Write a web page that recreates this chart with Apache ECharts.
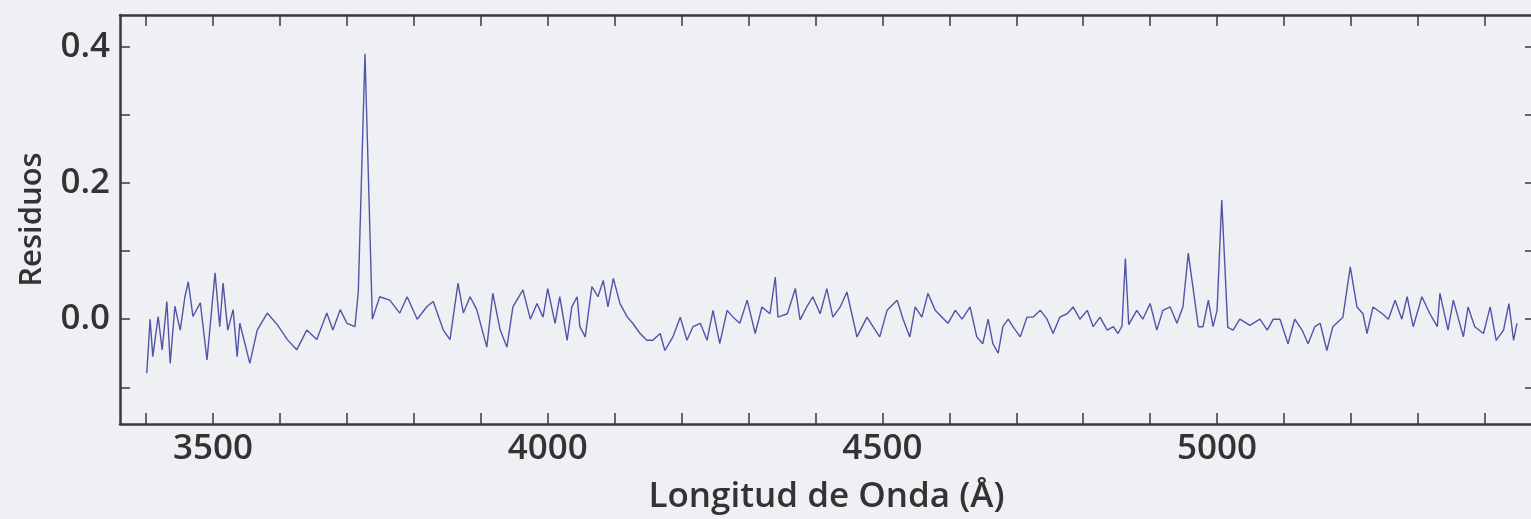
<!DOCTYPE html>
<html>
<head>
<meta charset="utf-8">
<script src="https://cdn.jsdelivr.net/npm/echarts@6/dist/echarts.min.js"></script>
<style>
html,body{margin:0;padding:0;background:#eef0f3;}
#chart{width:1531px;height:519px;}
</style>
</head>
<body>
<div id="chart"></div>
<script>
// Wavelength (Å) samples
const wavelengths = [
3401,3406,3410,3418,3424,3431,3436,3443,3451,3458,3463,3470,3481,3491,3503,3510,3515,3522,3530,3536,
3540,3555,3566,3581,3596,3611,3625,3640,3655,3670,3679,3690,3700,3712,3717,3727,3738,3749,3764,3779,
3790,3805,3820,3829,3844,3854,3866,3874,3884,3894,3909,3918,3929,3939,3948,3963,3974,3984,3993,4000,
4011,4018,4029,4036,4044,4048,4056,4066,4075,4083,4090,4098,4108,4119,4127,4138,4148,4157,4168,4175,
4187,4198,4208,4217,4228,4238,4247,4257,4268,4277,4287,4298,4310,4320,4332,4340,4344,4358,4370,4377,
4387,4396,4407,4417,4426,4437,4447,4462,4477,4486,4496,4507,4522,4531,4541,4549,4559,4568,4579,4589,
4598,4609,4619,4631,4641,4650,4658,4665,4673,4680,4688,4695,4706,4716,4725,4736,4746,4755,4765,4776,
4785,4795,4806,4815,4825,4836,4845,4852,4858,4863,4868,4880,4889,4900,4910,4919,4930,4940,4949,4957,
4972,4979,4987,4994,5000,5007,5016,5024,5034,5049,5064,5075,5084,5094,5106,5116,5127,5136,5146,5154,
5164,5173,5188,5199,5209,5218,5224,5233,5247,5256,5266,5276,5284,5293,5306,5318,5329,5333,5345,5353,
5368,5375,5385,5398,5408,5417,5428,5436,5443,5448
];
// Residual values at those wavelengths
const residuals = [
-0.079,0.000,-0.055,0.004,-0.045,0.026,-0.065,0.019,-0.016,0.033,0.055,0.004,0.024,-0.060,0.068,-0.011,0.053,-0.016,0.014,-0.055,
-0.006,-0.065,-0.016,0.009,-0.008,-0.030,-0.045,-0.016,-0.030,0.009,-0.016,0.014,-0.006,-0.011,0.040,0.390,0.000,0.033,0.028,0.009,
0.033,0.000,0.019,0.026,-0.016,-0.030,0.053,0.009,0.033,0.014,-0.041,0.038,-0.016,-0.041,0.018,0.043,0.000,0.023,0.003,0.045,
-0.006,0.033,-0.031,0.018,0.033,-0.011,-0.026,0.048,0.033,0.057,0.018,0.060,0.023,0.003,-0.006,-0.021,-0.031,-0.031,-0.021,-0.046,
-0.026,0.003,-0.031,-0.011,-0.006,-0.031,0.013,-0.036,0.013,0.003,-0.006,0.028,-0.021,0.018,0.008,0.062,0.003,0.008,0.045,-0.001,
0.018,0.033,0.008,0.045,0.003,0.018,0.040,-0.026,0.003,-0.011,-0.026,0.013,0.028,0.000,-0.026,0.018,0.003,0.038,0.013,0.003,
-0.006,0.013,0.000,0.018,-0.026,-0.036,0.000,-0.036,-0.050,-0.011,0.000,-0.011,-0.026,0.003,0.003,0.013,0.000,-0.021,0.003,0.008,
0.018,0.000,0.013,-0.011,0.003,-0.016,-0.011,-0.021,-0.010,0.089,-0.008,0.013,0.000,0.023,-0.016,0.013,0.018,-0.006,0.018,0.097,
-0.011,-0.011,0.028,-0.011,0.013,0.175,-0.012,-0.016,0.000,-0.009,0.000,-0.016,0.000,0.000,-0.036,0.000,-0.016,-0.036,-0.011,-0.006,
-0.046,-0.011,0.003,0.077,0.018,0.008,-0.021,0.018,0.008,0.000,0.028,0.000,0.033,-0.011,0.033,0.008,-0.011,0.038,-0.016,0.028,
-0.026,0.018,-0.011,-0.021,0.018,-0.031,-0.016,0.023,-0.031,-0.006
];
// Axis ticks and labels
const xTicks = [3400,3500,3600,3700,3800,3900,4000,4100,4200,4300,4400,4500,4600,4700,4800,4900,5000,5100,5200,5300,5400];
const xLabels = [3500,4000,4500,5000];
const yTicks = [-0.1,0.0,0.1,0.2,0.3,0.4];
const yLabels = [0.0,0.2,0.4];
const xTitle = 'Longitud de Onda (Å)';
const yTitle = 'Residuos';

const data = wavelengths.map((w, i) => [w, residuals[i]]);

const frameColor = '#3a3a3a';
const textColor = '#333333';
const font = 'Open Sans';

const xMin = 3361, xMax = 5472, yMin = -0.154, yMax = 0.447;

function frameAxis(extra) {
  return Object.assign({
    type: 'value',
    axisLine: { show: true, onZero: false, lineStyle: { color: frameColor, width: 2.5 } },
    splitLine: { show: false },
  }, extra);
}

const chart = echarts.init(document.getElementById('chart'), null, { renderer: 'canvas' });
chart.setOption({
  backgroundColor: '#eef0f3',
  animation: false,
  grid: { left: 120, right: -2, top: 15, bottom: 95, containLabel: false, outerBoundsMode: 'none' },
  xAxis: [
    frameAxis({
      position: 'bottom', min: xMin, max: xMax,
      name: xTitle, nameLocation: 'middle', nameGap: 56,
      nameTextStyle: { fontFamily: font, fontSize: 35, fontWeight: 600, color: textColor },
      axisTick: { show: true, inside: true, length: 11, customValues: xTicks, lineStyle: { color: frameColor, width: 1.5 } },
      axisLabel: { show: true, customValues: xLabels, margin: 8, fontFamily: font, fontSize: 35, fontWeight: 600, color: textColor,
        formatter: v => String(Math.round(v)) }
    }),
    frameAxis({
      position: 'top', min: xMin, max: xMax,
      axisTick: { show: true, inside: true, length: 11, customValues: xTicks, lineStyle: { color: frameColor, width: 1.5 } },
      axisLabel: { show: false }
    })
  ],
  yAxis: [
    frameAxis({
      position: 'left', min: yMin, max: yMax,
      name: yTitle, nameLocation: 'middle', nameGap: 72, nameRotate: 90,
      nameTextStyle: { fontFamily: font, fontSize: 31, fontWeight: 600, color: textColor },
      axisTick: { show: true, inside: true, length: 10, customValues: yTicks, lineStyle: { color: frameColor, width: 1.5 } },
      axisLabel: { show: true, customValues: yLabels, margin: 10, fontFamily: font, fontSize: 35, fontWeight: 600, color: textColor,
        formatter: v => v.toFixed(1) }
    }),
    frameAxis({
      position: 'right', min: yMin, max: yMax,
      axisLine: { show: false },
      axisTick: { show: true, inside: true, length: 8, customValues: yTicks, lineStyle: { color: frameColor, width: 1.5 } },
      axisLabel: { show: false }
    })
  ],
  series: [{
    type: 'line',
    xAxisIndex: 0, yAxisIndex: 0,
    data: data,
    showSymbol: false,
    symbol: 'none',
    lineStyle: { color: '#5055a8', width: 1.4 },
    clip: true
  }]
});
</script>
</body>
</html>
